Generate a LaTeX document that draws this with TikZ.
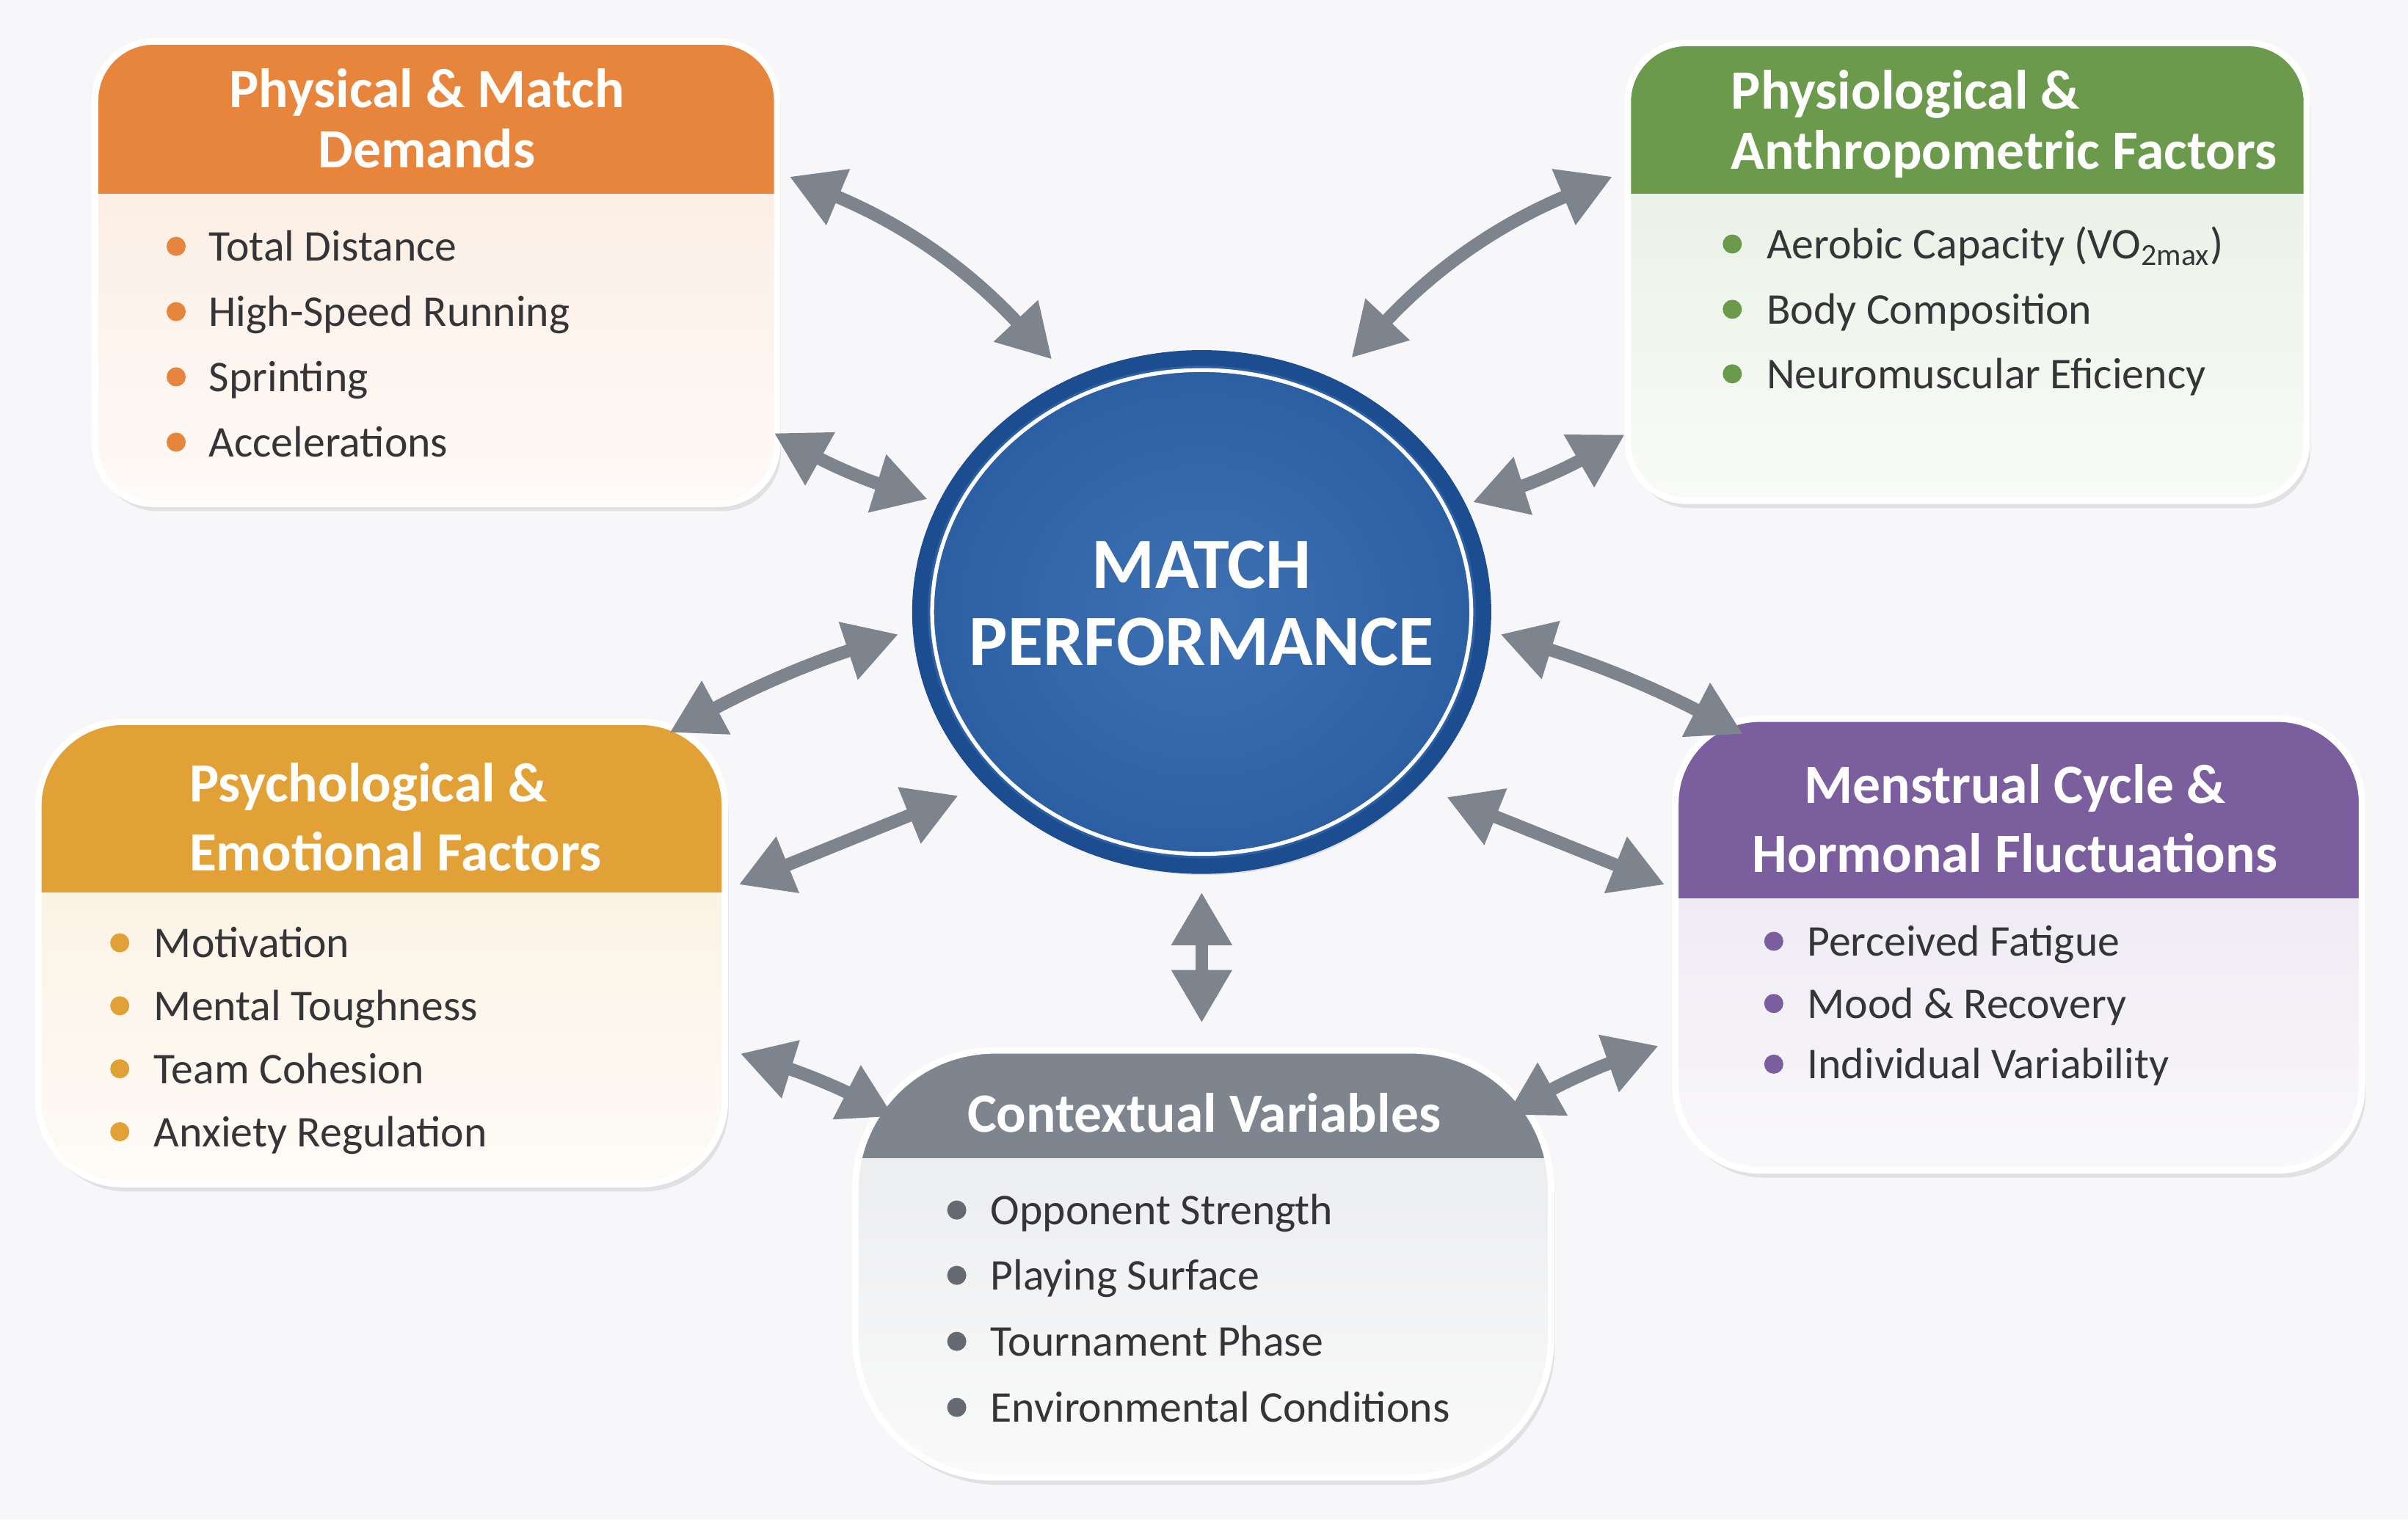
\documentclass[tikz,border=0pt]{standalone}
\usepackage{fontspec}
\setmainfont{Carlito}
\usepackage{tikz}
\usetikzlibrary{arrows.meta,shapes.geometric,shadows}

\definecolor{bgcol}{HTML}{F7F7F9}
\definecolor{physc}{HTML}{E8853D}
\definecolor{physioc}{HTML}{6B9A4C}
\definecolor{psychc}{HTML}{E2A136}
\definecolor{mensc}{HTML}{7B5E9E}
\definecolor{ctxc}{HTML}{7E858F}
\definecolor{linkgray}{HTML}{7E848E}
\definecolor{itemtxt}{HTML}{353537}
\definecolor{perfring}{HTML}{1C4D90}
\definecolor{perfin}{HTML}{3D71B3}
\definecolor{perfout}{HTML}{2C5FA2}

\begin{document}
\begin{tikzpicture}[x=0.020925cm,y=0.020925cm,
	box/.style 2 args={draw=white, line width=2.5pt, rounded corners=0.8cm, outer sep=0pt,
		top color=#1!18, bottom color=#1!4,
		drop shadow={shadow xshift=0.05cm, shadow yshift=-0.1cm, opacity=0.18},
		path picture={\fill[#1, sharp corners] (path picture bounding box.north west) rectangle ([yshift=-#2]path picture bounding box.north east);}},
	heading/.style={text=white, font=\bfseries\fontsize{21.5}{23.5}\selectfont},
	item/.style={anchor=base west, text=itemtxt, font=\fontsize{17}{20}\selectfont},
	link/.style={draw=linkgray, line width=5pt, {Triangle[length=0.72cm,width=0.78cm]}-{Triangle[length=0.72cm,width=0.78cm]}}]
			\path [use as bounding box, fill=bgcol] (0,0) rectangle (1568,-989.3);
			\tikzstyle{every node}+=[inner sep=0pt]
			\node [box={physc}{2.072cm}, minimum width=9.291cm, minimum height=6.298cm] (phys) at (284,-177.5) {};
			\node [heading, anchor=north, align=center] (physh) at (278,-44.2) {Physical \& Match\\Demands};
			\node [item] (phys1) at (135.7,-170) {Total Distance};
			\node [item] (phys2) at (135.7,-212.5) {High-Speed Running};
			\node [item] (phys3) at (135.7,-255) {Sprinting};
			\node [item] (phys4) at (135.7,-297.5) {Accelerations};
			\fill [physc] ([shift={(-21,9.6)}]phys1.base west) circle (0.13cm);
			\fill [physc] ([shift={(-21,9.6)}]phys2.base west) circle (0.13cm);
			\fill [physc] ([shift={(-21,9.6)}]phys3.base west) circle (0.13cm);
			\fill [physc] ([shift={(-21,9.6)}]phys4.base west) circle (0.13cm);
			\node [box={physioc}{2.051cm}, minimum width=9.249cm, minimum height=6.236cm] (physio) at (1281,-177) {};
			\node [heading, anchor=north west, align=left] (physioh) at (1127,-45.2) {Physiological \&\\Anthropometric Factors};
			\node [item] (physio1) at (1150,-168.5) {Aerobic Capacity (VO\textsubscript{2max})};
			\node [item] (physio2) at (1150,-211) {Body Composition};
			\node [item] (physio3) at (1150,-253) {Neuromuscular Eficiency};
			\fill [physioc] ([shift={(-22,9.6)}]physio1.base west) circle (0.13cm);
			\fill [physioc] ([shift={(-22,9.6)}]physio2.base west) circle (0.13cm);
			\fill [physioc] ([shift={(-22,9.6)}]physio3.base west) circle (0.13cm);
			\node [box={psychc}{2.323cm}, rounded corners=1.15cm, minimum width=9.353cm, minimum height=6.298cm] (psych) at (248.5,-620.5) {};
			\node [heading, font=\bfseries\fontsize{21.5}{26.8}\selectfont, anchor=north west, align=left] (psychh) at (123,-496.2) {Psychological \&\\Emotional Factors};
			\node [item] (psych1) at (100,-623.5) {Motivation};
			\node [item] (psych2) at (100,-664.5) {Mental Toughness};
			\node [item] (psych3) at (100,-705.5) {Team Cohesion};
			\node [item] (psych4) at (100,-746.5) {Anxiety Regulation};
			\fill [psychc] ([shift={(-22,9.6)}]psych1.base west) circle (0.13cm);
			\fill [psychc] ([shift={(-22,9.6)}]psych2.base west) circle (0.13cm);
			\fill [psychc] ([shift={(-22,9.6)}]psych3.base west) circle (0.13cm);
			\fill [psychc] ([shift={(-22,9.6)}]psych4.base west) circle (0.13cm);
			\node [box={mensc}{2.448cm}, rounded corners=1.15cm, minimum width=9.353cm, minimum height=6.152cm] (mens) at (1314.5,-615) {};
			\node [heading, font=\bfseries\fontsize{21.5}{26.8}\selectfont, anchor=north, align=center] (mensh) at (1312,-497.2) {Menstrual Cycle \&\\Hormonal Fluctuations};
			\node [item] (mens1) at (1176.5,-622.5) {Perceived Fatigue};
			\node [item] (mens2) at (1176.5,-663) {Mood \& Recovery};
			\node [item] (mens3) at (1176.5,-702.5) {Individual Variability};
			\fill [mensc] ([shift={(-21.5,9.6)}]mens1.base west) circle (0.13cm);
			\fill [mensc] ([shift={(-21.5,9.6)}]mens2.base west) circle (0.13cm);
			\fill [mensc] ([shift={(-21.5,9.6)}]mens3.base west) circle (0.13cm);
			\node [box={ctxc}{1.465cm}, rounded corners=1.9cm, minimum width=9.479cm, minimum height=5.817cm] (ctx) at (783.5,-823) {};
			\node [heading, anchor=base] (ctxh) at (784,-737) {Contextual Variables};
			\node [item] (ctx1) at (644.7,-797.5) {Opponent Strength};
			\node [item] (ctx2) at (644.7,-840) {Playing Surface};
			\node [item] (ctx3) at (644.7,-883) {Tournament Phase};
			\node [item] (ctx4) at (644.7,-926) {Environmental Conditions};
			\fill [ctxc!80!black] ([shift={(-21.7,9.6)}]ctx1.base west) circle (0.13cm);
			\fill [ctxc!80!black] ([shift={(-21.7,9.6)}]ctx2.base west) circle (0.13cm);
			\fill [ctxc!80!black] ([shift={(-21.7,9.6)}]ctx3.base west) circle (0.13cm);
			\fill [ctxc!80!black] ([shift={(-21.7,9.6)}]ctx4.base west) circle (0.13cm);
			\node [ellipse, draw=perfring, line width=6pt, inner color=perfin, outer color=perfout, minimum width=7.678cm, minimum height=6.924cm, drop shadow={shadow xshift=0.05cm, shadow yshift=-0.12cm, opacity=0.2}] (perf) at (782.5,-398.5) {};
			\draw [white, line width=1.5pt] (perf.center) ellipse (3.672cm and 3.296cm);
			\node [text=white, font=\bfseries\fontsize{28}{29.8}\selectfont, align=center] (perftext) at (782.5,-392.8) {MATCH\\PERFORMANCE};
			\draw [link] ([shift={(8,62.5)}]phys.east) to[bend left=12] ([shift={(-97.5,164.5)}]perf.center);
			\draw [link] ([shift={(-2,-104.5)}]phys.east) to[bend right=6] ([shift={(-178.5,73.5)}]perf.center);
			\draw [link] ([shift={(-10,62)}]physio.west) to[bend right=12] ([shift={(97.5,165.5)}]perf.center);
			\draw [link] ([shift={(-2,-106)}]physio.west) to[bend left=6] ([shift={(176.5,71.5)}]perf.center);
			\draw [link] ([shift={(-36,-7)}]psych.north east) to[bend left=5] ([shift={(-197.5,-14.5)}]perf.center);
			\draw [link] ([shift={(9,44.5)}]psych.east) -- ([shift={(-158.5,-119.5)}]perf.center);
			\draw [link] ([shift={(10,-65.5)}]psych.east) to[bend left=5] ([shift={(25,-43)}]ctx.north west);
			\draw [link] ([shift={(44,-10)}]mens.north west) to[bend right=5] ([shift={(194.5,-14.5)}]perf.center);
			\draw [link] ([shift={(-7,39)}]mens.west) -- ([shift={(159.5,-120.5)}]perf.center);
			\draw [link] ([shift={(-11,-66)}]mens.west) to[bend right=5] ([shift={(-29,-42)}]ctx.north east);
			\draw [link] ([shift={(0,-182.5)}]perf.center) -- ([shift={(-1,18)}]ctx.north);
\end{tikzpicture}
\end{document}
